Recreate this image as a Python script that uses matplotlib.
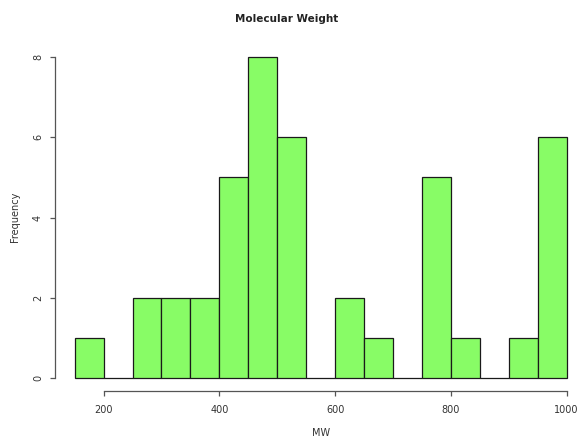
import matplotlib
matplotlib.use("Agg")
import matplotlib.pyplot as plt
import numpy as np

# Histogram of molecular weights: bin edges and counts per bin
bin_edges = [150, 200, 250, 300, 350, 400, 450, 500, 550, 600,
             650, 700, 750, 800, 850, 900, 950, 1000]
counts = [1, 0, 2, 2, 2, 5, 8, 6, 0, 2, 1, 0, 5, 1, 0, 1, 6]
x_ticks = [200, 400, 600, 800, 1000]
y_ticks = [0, 2, 4, 6, 8]

W, H = 582, 441
fig = plt.figure(figsize=(W / 100, H / 100), dpi=100)
fig.patch.set_facecolor("white")

left_px, right_px, top_px, bottom_px = 55, 586.3, 44, 391
ax = fig.add_axes([left_px / W, 1 - bottom_px / H,
                   (right_px - left_px) / W, (bottom_px - top_px) / H])

edges = np.array(bin_edges, dtype=float)
widths = np.diff(edges)
ax.bar(edges[:-1], counts, width=widths, align="edge",
       color="#88FC66", edgecolor="#1a1a1a", linewidth=0.9)

xr = edges[-1] - edges[0]
ax.set_xlim(edges[0] - 0.04 * xr, edges[-1] + 0.04 * xr)
ax.set_ylim(-0.04 * 8, 8 + 0.04 * 8)

for s in ["top", "right"]:
    ax.spines[s].set_visible(False)
for s in ["left", "bottom"]:
    ax.spines[s].set_color("#555555")
    ax.spines[s].set_linewidth(0.9)
ax.spines["left"].set_bounds(y_ticks[0], y_ticks[-1])
ax.spines["bottom"].set_bounds(x_ticks[0], x_ticks[-1])

ax.set_xticks(x_ticks)
ax.set_yticks(y_ticks)
ax.set_yticklabels([str(v) for v in y_ticks], rotation=90, va="center")
ax.tick_params(axis="both", length=3.6, width=0.9, color="#555555",
               labelcolor="#333333", labelsize=7)
ax.tick_params(axis="x", pad=6.5)
ax.tick_params(axis="y", pad=5)

fig.text(287 / W, 1 - 19 / H, "Molecular Weight", ha="center", va="center",
         fontsize=7.5, fontweight="bold", color="#222222")
fig.text((left_px + right_px) / 2 / W, 1 - 433 / H, "MW", ha="center",
         va="center", fontsize=7, color="#333333")
fig.text(15 / W, 1 - 217 / H, "Frequency", ha="center", va="center",
         rotation=90, fontsize=7, color="#333333")

fig.savefig("out.png", dpi=100)
